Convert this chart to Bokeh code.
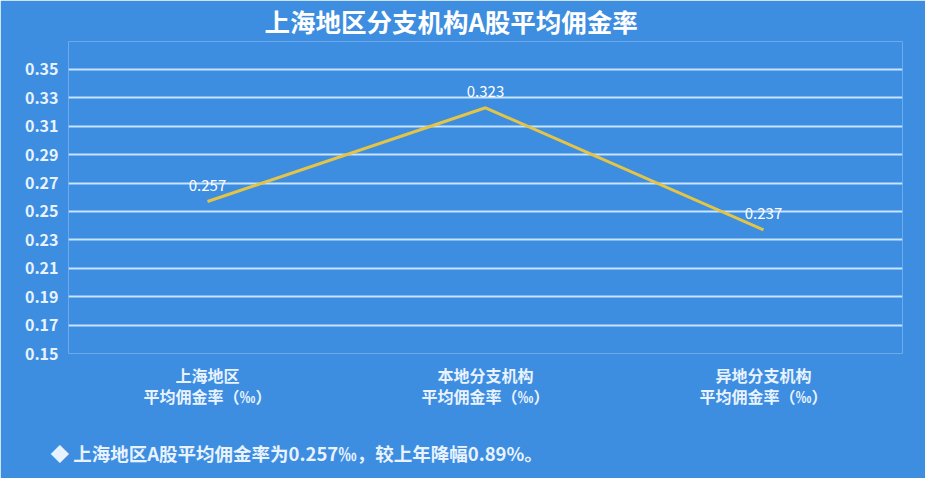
from bokeh.plotting import figure
from bokeh.models import FixedTicker, Title, ColumnDataSource, PrintfTickFormatter, Range1d
from bokeh.core.properties import value
from bokeh.embed import file_html
from bokeh.resources import INLINE

categories = ["上海地区\n平均佣金率（‰）", "本地分支机构\n平均佣金率（‰）", "异地分支机构\n平均佣金率（‰）"]
values = [0.257, 0.323, 0.237]
value_labels = ["0.257", "0.323", "0.237"]
y_ticks = [0.15, 0.17, 0.19, 0.21, 0.23, 0.25, 0.27, 0.29, 0.31, 0.33, 0.35]
title_text = "上海地区分支机构A股平均佣金率"
note_text = "◆ 上海地区A股平均佣金率为0.257‰，较上年降幅0.89%。"

FONT = "Noto Sans CJK SC"
BG = "#3d8de1"
TXT = "#e8f3ff"

W, H = 925, 478
TOP, BOTTOM = 40, 125
# frame spans canvas y 40..353; top gridline (0.35) should sit at canvas y 68
y_lo, y_hi = y_ticks[0], y_ticks[-1]
y_end = y_lo + (y_hi - y_lo) * (H - BOTTOM - TOP) / (H - BOTTOM - 68)

p = figure(x_range=categories, y_range=Range1d(y_lo, y_end), width=W, height=H,
           output_backend="svg", toolbar_location=None,
           min_border_left=68, min_border_right=23, min_border_top=TOP, min_border_bottom=BOTTOM)
p.background_fill_color = BG
p.border_fill_color = BG
p.outline_line_color = None

src = ColumnDataSource(dict(x=categories, y=values, t=value_labels))
p.line("x", "y", source=src, line_color="#e3c446", line_width=3)
p.text("x", "y", text="t", source=src, y_offset=-11, text_align="center", text_baseline="bottom",
       text_color="white", text_font_size="15px", text_font=value(FONT))

p.xgrid.grid_line_color = None
p.ygrid.grid_line_color = "#c8e4ff"
p.ygrid.grid_line_width = 2
p.yaxis.ticker = FixedTicker(ticks=y_ticks)
p.yaxis.formatter = PrintfTickFormatter(format="%.2f")
for ax in (p.xaxis + p.yaxis):
    ax.axis_line_color = None
    ax.major_tick_line_color = None
    ax.minor_tick_line_color = None
    ax.major_tick_out = 0
    ax.major_tick_in = 0
    ax.major_label_text_color = TXT
    ax.major_label_text_font = FONT
    ax.major_label_text_font_style = "bold"
    ax.major_label_text_font_size = "16px"
p.yaxis.major_label_standoff = 10
p.xaxis.major_label_text_line_height = 0.9
p.xaxis.major_label_standoff = 9

p.title.text = title_text
p.title.align = "left"
p.title.offset = 196
p.title.vertical_align = "top"
p.title.standoff = 2
p.title.text_color = "white"
p.title.text_font = FONT
p.title.text_font_style = "bold"
p.title.text_font_size = "25.5px"

footer = Title(text=note_text, align="left", offset=-18, standoff=16, padding=(0, 0, 18, 0),
               text_color=TXT, text_font=FONT, text_font_style="bold", text_font_size="18.5px")
p.add_layout(footer, "below")

open("out.html", "w").write(file_html(p, INLINE))
